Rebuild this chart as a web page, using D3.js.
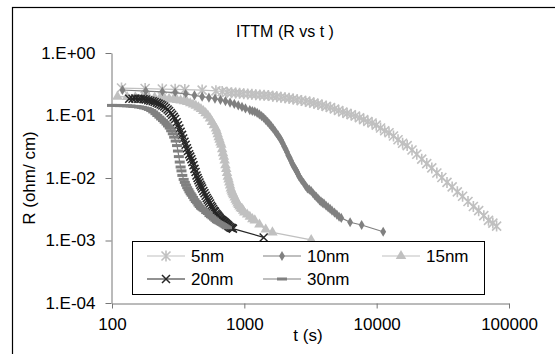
<!DOCTYPE html>
<html>
<head>
<meta charset="utf-8">
<script src="https://cdn.jsdelivr.net/npm/d3@7"></script>
<style>
  body { margin: 0; background: #fff; }
  svg { display: block; font-family: "Liberation Sans", Arial, sans-serif; }
</style>
</head>
<body>
<svg id="chart" width="555" height="354"></svg>
<script>
// time (s) and resistance (ohm/cm)
const t5 = [118, 178, 240, 300, 355, 480, 610, 680, 740, 800, 860, 920, 990, 1060, 1140, 1220, 1310, 1410, 1520, 1640,
  1760, 1890, 2030, 2180, 2340, 2510, 2700, 2900, 3120, 3350, 3600, 3870, 4160, 4470, 4800, 5160, 5550, 5970, 6420,
  6900, 7420, 7980, 8580, 9230, 9920, 10700, 11500, 12400, 13400, 14500, 15700, 17000, 18500, 20100, 21900, 23900,
  26100, 28500, 31100, 34000, 37200, 40700, 44600, 49000, 53800, 59000, 64500, 70000, 75500, 80600];
const r5 = [0.275, 0.27, 0.265, 0.262, 0.26, 0.255, 0.248, 0.242, 0.236, 0.232, 0.229, 0.226, 0.223, 0.221, 0.218,
  0.215, 0.212, 0.21, 0.208, 0.204, 0.2, 0.196, 0.192, 0.188, 0.184, 0.179, 0.174, 0.169, 0.164, 0.158, 0.152, 0.146,
  0.14, 0.134, 0.127, 0.12, 0.114, 0.108, 0.103, 0.098, 0.092, 0.086, 0.08, 0.076, 0.07, 0.063, 0.057, 0.053, 0.047,
  0.041, 0.036, 0.033, 0.028, 0.024, 0.02, 0.017, 0.0145, 0.012, 0.0102, 0.0085, 0.0072, 0.006, 0.0051, 0.0042,
  0.0035, 0.003, 0.0025, 0.0021, 0.0019, 0.0017];

const t10 = [120, 180, 240, 300, 360, 420, 480, 540, 600, 660, 720, 780, 840, 900, 960, 1020, 1100, 1150, 1200, 1250,
  1300, 1350, 1400, 1450, 1500, 1550, 1600, 1650, 1700, 1750, 1800, 1850, 1900, 1950, 2000, 2050, 2100, 2150, 2200,
  2250, 2300, 2350, 2400, 2450, 2500, 2550, 2600, 2700, 2800, 2900, 3000, 3100, 3200, 3300, 3400, 3500, 3600, 3700,
  3800, 3900, 4000, 4150, 4300, 4450, 4600, 4800, 5000, 5200, 5400, 6300, 7700, 11200];
const r10 = [0.256, 0.246, 0.238, 0.232, 0.221, 0.21, 0.2, 0.193, 0.186, 0.178, 0.17, 0.161, 0.153, 0.145, 0.137,
  0.13, 0.122, 0.118, 0.115, 0.11, 0.104, 0.098, 0.092, 0.085, 0.079, 0.073, 0.067, 0.062, 0.057, 0.052, 0.048,
  0.044, 0.04, 0.036, 0.032, 0.029, 0.026, 0.023, 0.021, 0.019, 0.017, 0.0157, 0.0145, 0.0135, 0.0125, 0.0115,
  0.0105, 0.0093, 0.0084, 0.0075, 0.0068, 0.0065, 0.0062, 0.0057, 0.0053, 0.005, 0.0047, 0.0044, 0.0042, 0.004,
  0.0039, 0.0036, 0.0034, 0.0032, 0.003, 0.0028, 0.0026, 0.0024, 0.0023, 0.00196, 0.00177, 0.00138];

const t15 = [110, 130, 150, 170, 190, 210, 230, 250, 270, 290, 310, 330, 350, 370, 390, 410, 430, 450, 470, 490, 510,
  530, 550, 570, 590, 610, 620, 630, 640, 650, 660, 670, 680, 690, 700, 710, 720, 730, 740, 750, 760, 770, 780, 790,
  800, 810, 820, 830, 845, 860, 875, 890, 905, 920, 940, 960, 980, 1000, 1050, 1100, 1150, 1200, 1300, 1450, 1630, 3200];
const r15 = [0.2, 0.198, 0.196, 0.195, 0.194, 0.193, 0.19, 0.187, 0.184, 0.18, 0.177, 0.174, 0.17, 0.164, 0.157, 0.15,
  0.143, 0.135, 0.127, 0.118, 0.109, 0.1, 0.09, 0.079, 0.07, 0.062, 0.056, 0.05, 0.045, 0.041, 0.037, 0.034, 0.029,
  0.025, 0.022, 0.019, 0.016, 0.014, 0.012, 0.0105, 0.0095, 0.0085, 0.0076, 0.0068, 0.0063, 0.0059, 0.0056, 0.0053,
  0.0049, 0.0045, 0.0042, 0.0039, 0.0037, 0.0035, 0.0033, 0.0032, 0.003, 0.0028, 0.0026, 0.0024, 0.0022, 0.0021,
  0.0018, 0.0015, 0.00135, 0.00102];

const t20 = [135, 143, 150, 158, 165, 173, 180, 188, 195, 203, 210, 218, 225, 233, 240, 248, 255, 263, 270, 278, 285,
  293, 300, 308, 315, 323, 330, 338, 345, 353, 360, 368, 375, 383, 390, 398, 405, 413, 420, 428, 435, 443, 450, 458,
  465, 473, 480, 490, 500, 510, 520, 530, 540, 550, 560, 570, 580, 590, 600, 610, 620, 630, 640, 650, 660, 670, 680,
  690, 700, 710, 720, 730, 740, 750, 760, 775, 790, 805, 820, 1400];
const r20 = [0.185, 0.186, 0.187, 0.186, 0.185, 0.183, 0.18, 0.176, 0.172, 0.169, 0.165, 0.16, 0.155, 0.15, 0.145,
  0.139, 0.132, 0.125, 0.118, 0.11, 0.103, 0.095, 0.088, 0.078, 0.07, 0.062, 0.055, 0.049, 0.043, 0.038, 0.034,
  0.03, 0.027, 0.024, 0.022, 0.02, 0.018, 0.016, 0.014, 0.0125, 0.011, 0.01, 0.0092, 0.0085, 0.0078, 0.0073,
  0.0068, 0.0062, 0.0057, 0.0052, 0.0048, 0.0045, 0.0042, 0.0039, 0.0036, 0.0034, 0.0032, 0.003, 0.0029, 0.0027,
  0.0026, 0.0025, 0.0024, 0.0023, 0.0022, 0.00215, 0.0021, 0.00205, 0.002, 0.00195, 0.0019, 0.00185, 0.0018,
  0.00175, 0.0017, 0.00165, 0.0016, 0.00158, 0.00155, 0.00112];

const t30 = [100, 108, 115, 123, 130, 138, 145, 153, 160, 168, 175, 183, 190, 198, 205, 213, 220, 228, 235, 243, 250,
  258, 265, 273, 280, 288, 295, 303, 310, 315, 320, 325, 330, 335, 340, 348, 355, 363, 370, 378, 385, 393, 400, 410,
  420, 430, 440, 450, 460, 470, 480, 490, 500, 515, 530, 545, 560, 575, 590, 605, 620, 635, 650, 665, 680, 695, 710,
  725, 740];
const r30 = [0.145, 0.145, 0.144, 0.144, 0.143, 0.142, 0.14, 0.139, 0.137, 0.135, 0.132, 0.129, 0.125, 0.12, 0.114,
  0.107, 0.1, 0.094, 0.088, 0.083, 0.078, 0.073, 0.068, 0.063, 0.057, 0.051, 0.045, 0.039, 0.033, 0.027, 0.022,
  0.018, 0.015, 0.013, 0.011, 0.0095, 0.0085, 0.0077, 0.007, 0.0065, 0.006, 0.0056, 0.0053, 0.0049, 0.0045, 0.0042,
  0.004, 0.0037, 0.0035, 0.0033, 0.0032, 0.0031, 0.003, 0.0028, 0.0027, 0.0025, 0.0024, 0.0023, 0.0022, 0.0021,
  0.002, 0.00195, 0.0019, 0.00185, 0.0018, 0.00175, 0.0017, 0.00165, 0.0016];

const seriesNames = ['5nm', '10nm', '15nm', '20nm', '30nm'];
const xTicks = [100, 1000, 10000, 100000];
const yTicks = [1, 0.1, 0.01, 0.001, 0.0001];
const yTickLabels = ['1.E+00', '1.E-01', '1.E-02', '1.E-03', '1.E-04'];

const series = [
  {name: seriesNames[0], t: t5, r: r5, color: '#c0c0c0', marker: 'star'},
  {name: seriesNames[1], t: t10, r: r10, color: '#808080', marker: 'diamond'},
  {name: seriesNames[2], t: t15, r: r15, color: '#c0c0c0', marker: 'triangle'},
  {name: seriesNames[3], t: t20, r: r20, color: '#262626', marker: 'cross'},
  {name: seriesNames[4], t: t30, r: r30, color: '#808080', marker: 'dash'}
];

const svg = d3.select('#chart');

// outer chart frame (runs past the right and bottom edges)
svg.append('rect')
  .attr('x', 12.5).attr('y', 7.5)
  .attr('width', 600).attr('height', 400)
  .attr('fill', 'none').attr('stroke', '#000').attr('stroke-width', 1.2);

const x = d3.scaleLog().domain([100, 100000]).range([112, 509]);
const y = d3.scaleLog().domain([0.0001, 1]).range([303, 53]);

// axes
const xAxis = d3.axisBottom(x).tickValues(xTicks).tickFormat(d3.format('d')).tickSize(5).tickSizeOuter(0);
const yAxis = d3.axisLeft(y).tickValues(yTicks).tickFormat((d, i) => yTickLabels[i]).tickSize(6).tickSizeOuter(0);

const xAxisG = svg.append('g').attr('transform', 'translate(0,303.5)').call(xAxis);
const yAxisG = svg.append('g').attr('transform', 'translate(111.5,0)').call(yAxis);

[xAxisG, yAxisG].forEach(g => {
  g.select('.domain').attr('stroke', '#777');
  g.selectAll('.tick line').attr('stroke', '#777');
  g.selectAll('.tick text').attr('fill', '#000').style('font-size', '17px')
    .style('font-family', '"Liberation Sans", Arial, sans-serif');
});
xAxisG.selectAll('.tick text').attr('y', 14);
yAxisG.selectAll('.tick text').attr('x', -16);

// titles
svg.append('text')
  .attr('x', 285).attr('y', 37)
  .attr('text-anchor', 'middle')
  .style('font-size', '16px')
  .text('ITTM (R vs t )');

svg.append('text')
  .attr('x', 308).attr('y', 341)
  .attr('text-anchor', 'middle')
  .style('font-size', '17px')
  .text('t (s)');

svg.append('text')
  .attr('transform', 'translate(35,178) rotate(-90)')
  .attr('text-anchor', 'middle')
  .style('font-size', '17px')
  .text('R (ohm/ cm)');

// marker shapes
function drawMarker(g, type, color) {
  if (type === 'star') {
    const s = 4.5;
    g.append('path')
      .attr('d', `M${-s},${-s}L${s},${s}M${-s},${s}L${s},${-s}M0,${-s - 1}L0,${s + 1}`)
      .attr('stroke', color).attr('stroke-width', 1.6).attr('fill', 'none');
  } else if (type === 'diamond') {
    g.append('path').attr('d', d3.symbol(d3.symbolDiamond, 30)()).attr('fill', color);
  } else if (type === 'triangle') {
    g.append('path').attr('d', d3.symbol(d3.symbolTriangle, 48)()).attr('fill', color);
  } else if (type === 'cross') {
    const s = 4;
    g.append('path')
      .attr('d', `M${-s},${-s}L${s},${s}M${-s},${s}L${s},${-s}`)
      .attr('stroke', color).attr('stroke-width', 1.5).attr('fill', 'none');
  } else if (type === 'dash') {
    g.append('rect').attr('x', -5).attr('y', -1.5).attr('width', 10).attr('height', 3).attr('fill', color);
  }
}

const line = d3.line().x(d => x(d[0])).y(d => y(d[1]));

series.forEach(s => {
  const pts = s.t.map((t, i) => [t, s.r[i]]);
  const g = svg.append('g').attr('class', 'series');
  g.append('path')
    .datum(pts)
    .attr('d', line)
    .attr('fill', 'none')
    .attr('stroke', s.color)
    .attr('stroke-width', 1.2);
  g.selectAll('.pt')
    .data(pts)
    .enter()
    .append('g')
    .attr('class', 'pt')
    .attr('transform', d => `translate(${x(d[0])},${y(d[1])})`)
    .each(function() { drawMarker(d3.select(this), s.marker, s.color); });
});

// legend
const legend = svg.append('g');
legend.append('rect')
  .attr('x', 132.5).attr('y', 241.5)
  .attr('width', 352).attr('height', 53)
  .attr('fill', '#fff').attr('stroke', '#000').attr('stroke-width', 1);

const colX = [147, 263, 382];
const rowY = [256, 279];
series.forEach((s, i) => {
  const cx = colX[i % 3];
  const cy = rowY[Math.floor(i / 3)];
  const item = legend.append('g').attr('transform', `translate(${cx},${cy})`);
  item.append('line')
    .attr('x1', 0).attr('x2', 38)
    .attr('stroke', s.color).attr('stroke-width', 1.2);
  const m = item.append('g').attr('transform', 'translate(19,0)');
  drawMarker(m, s.marker, s.color);
  item.append('text')
    .attr('x', 44).attr('y', 6)
    .style('font-size', '17px')
    .text(s.name);
});
</script>
</body>
</html>
